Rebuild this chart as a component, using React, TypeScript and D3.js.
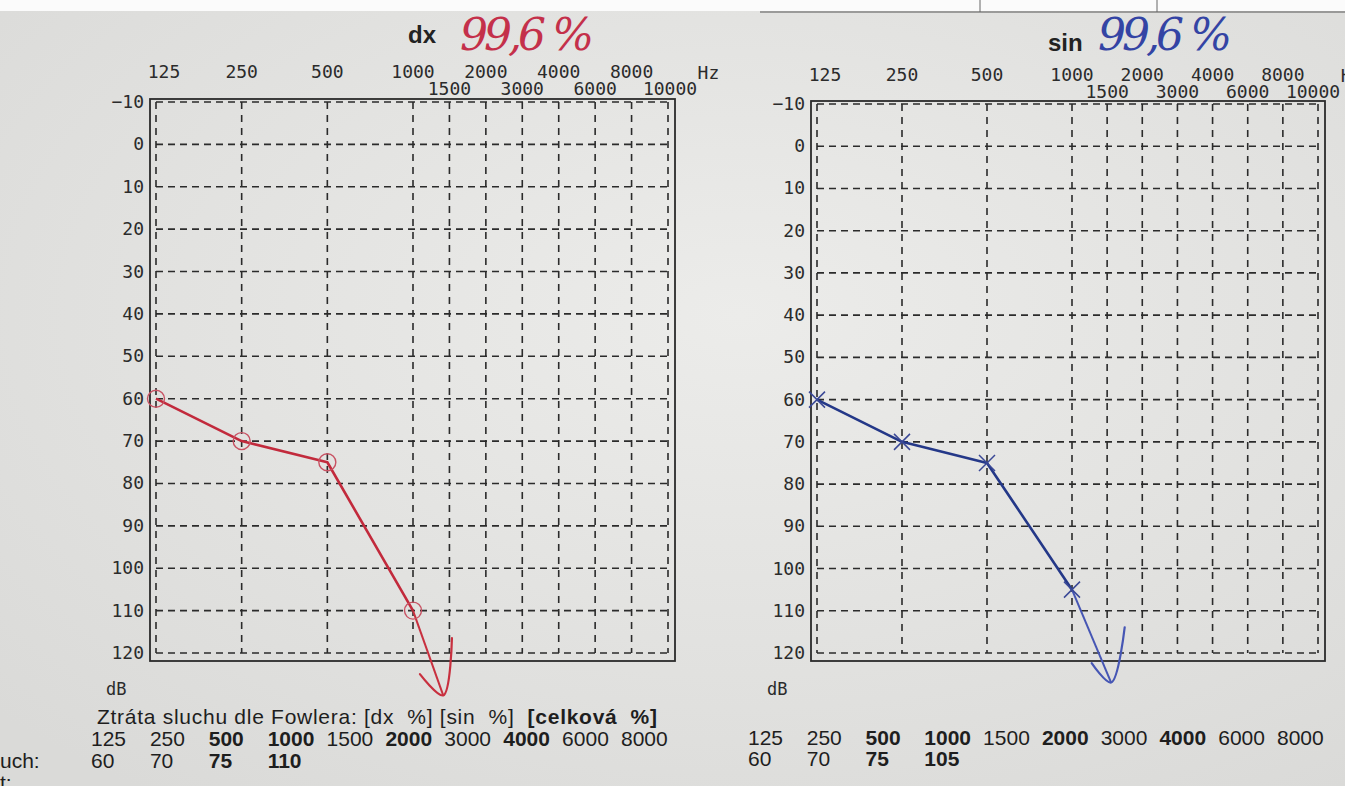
import React, { useEffect, useRef } from 'react';
import * as d3 from 'd3';

// Audiogram frequencies (grid columns)
const FREQS = [125, 250, 500, 1000, 1500, 2000, 3000, 4000, 6000, 8000, 10000];
const UPPER_FREQS = [125, 250, 500, 1000, 2000, 4000, 8000];
const LOWER_FREQS = [1500, 3000, 6000, 10000];
const DB_TICKS = [-10, 0, 10, 20, 30, 40, 50, 60, 70, 80, 90, 100, 110, 120];

// Measured thresholds
const MEASURED_FREQS = [125, 250, 500, 1000];
const DX_DB = [60, 70, 75, 110];
const SIN_DB = [60, 70, 75, 105];

// Hand-drawn "no response" arrows: [Hz, dB]
const DX_ARROW_TIP: [number, number] = [1400, 130];
const DX_ARROW_WING_A: [number, number] = [1080, 125];
const DX_ARROW_WING_B: [number, number] = [1530, 116.5];
const SIN_ARROW_TIP: [number, number] = [1550, 127];
const SIN_ARROW_WING_A: [number, number] = [1255, 122.4];
const SIN_ARROW_WING_B: [number, number] = [1732, 113.9];

// Handwritten totals
const DX_PERCENT = '99,6 %';
const SIN_PERCENT = '99,6 %';

// Fowler table
const TABLE_FREQS = ['125', '250', '500', '1000', '1500', '2000', '3000', '4000', '6000', '8000'];
const BOLD_FREQS = ['500', '1000', '2000', '4000'];
const DX_TABLE = ['60', '70', '75', '110'];
const SIN_TABLE = ['60', '70', '75', '105'];

const W = 1345;
const H = 786;
const PRINT_FONT = '"DejaVu Sans Mono", monospace';
const SANS = '"Liberation Sans", Arial, sans-serif';
const INK = '#2b2b2b';

// fractional column index of a frequency (log interpolation between grid columns)
const freqIndex = (f: number): number => {
  for (let i = 0; i < FREQS.length - 1; i++) {
    if (f <= FREQS[i + 1]) {
      return i + Math.log(f / FREQS[i]) / Math.log(FREQS[i + 1] / FREQS[i]);
    }
  }
  return FREQS.length - 1;
};

interface PanelConfig {
  left: number;
  mid: number;
  right: number;
  top: number;
  bottom: number;
  upperY: number;
  lowerY: number;
  hzShift: number;
  lastShift: number;
  title: string;
  titleX: number;
  titleY: number;
  percent: string;
  percentX: number;
  percentY: number;
  percentLen: number;
  db: number[];
  tip: [number, number];
  wingA: [number, number];
  wingB: [number, number];
  color: string;
  arrowColor: string;
  marker: 'circle' | 'cross';
  handColor: string;
}

const drawPanel = (svg: d3.Selection<SVGSVGElement, unknown, null, undefined>, cfg: PanelConfig) => {
  const x = d3.scaleLinear().domain([0, 3, FREQS.length - 1]).range([cfg.left, cfg.mid, cfg.right]);
  const y = d3.scaleLinear().domain([-10, 120]).range([cfg.top, cfg.bottom]);
  const fx = (f: number) => x(freqIndex(f));

  const g = svg.append('g');

  // frame
  g.append('rect')
    .attr('x', x(0) - 6)
    .attr('y', y(-10) - 3)
    .attr('width', x(FREQS.length - 1) - x(0) + 13)
    .attr('height', y(120) - y(-10) + 11)
    .attr('fill', 'none')
    .attr('stroke', INK)
    .attr('stroke-width', 1.8);

  // dashed grid
  g.selectAll('.hgrid')
    .data(DB_TICKS)
    .enter()
    .append('line')
    .attr('x1', x(0))
    .attr('x2', x(FREQS.length - 1))
    .attr('y1', d => y(d))
    .attr('y2', d => y(d))
    .attr('stroke', INK)
    .attr('stroke-width', 1.6)
    .attr('stroke-dasharray', '7,5');

  g.selectAll('.vgrid')
    .data(FREQS)
    .enter()
    .append('line')
    .attr('x1', d => fx(d))
    .attr('x2', d => fx(d))
    .attr('y1', y(-10))
    .attr('y2', y(120))
    .attr('stroke', INK)
    .attr('stroke-width', 1.6)
    .attr('stroke-dasharray', '7,6');

  // dB labels
  g.selectAll('.ylab')
    .data(DB_TICKS)
    .enter()
    .append('text')
    .attr('x', x(0) - 12)
    .attr('y', d => y(d) + 6)
    .attr('text-anchor', 'end')
    .attr('font-family', PRINT_FONT)
    .attr('font-size', 18)
    .attr('fill', INK)
    .text(d => (d < 0 ? `\u2212${-d}` : `${d}`));

  g.append('text')
    .attr('x', x(0) - 50)
    .attr('y', y(120) + 42)
    .attr('font-family', PRINT_FONT)
    .attr('font-size', 17)
    .attr('fill', INK)
    .text('dB');

  // frequency labels
  g.selectAll('.xup')
    .data(UPPER_FREQS)
    .enter()
    .append('text')
    .attr('x', d => fx(d) + (d === 125 ? 8 : 0))
    .attr('y', cfg.upperY)
    .attr('text-anchor', 'middle')
    .attr('font-family', PRINT_FONT)
    .attr('font-size', 18)
    .attr('fill', INK)
    .text(d => d);

  g.selectAll('.xlow')
    .data(LOWER_FREQS)
    .enter()
    .append('text')
    .attr('x', d => fx(d) + (d === 10000 ? cfg.lastShift : 0))
    .attr('y', cfg.lowerY)
    .attr('text-anchor', 'middle')
    .attr('font-family', PRINT_FONT)
    .attr('font-size', 18)
    .attr('fill', INK)
    .text(d => d);

  g.append('text')
    .attr('x', fx(8000) + cfg.hzShift)
    .attr('y', cfg.upperY + 1)
    .attr('font-family', PRINT_FONT)
    .attr('font-size', 18)
    .attr('fill', INK)
    .text('Hz');

  // title + handwritten percentage
  g.append('text')
    .attr('x', cfg.titleX)
    .attr('y', cfg.titleY)
    .attr('font-family', SANS)
    .attr('font-weight', 'bold')
    .attr('font-size', 24)
    .attr('fill', '#222')
    .text(cfg.title);

  g.append('text')
    .attr('x', cfg.percentX)
    .attr('y', cfg.percentY)
    .attr('font-family', '"DejaVu Serif", serif')
    .attr('font-style', 'italic')
    .attr('font-size', 44)
    .attr('textLength', cfg.percentLen)
    .attr('lengthAdjust', 'spacing')
    .attr('fill', cfg.handColor)
    .text(cfg.percent);

  // threshold line
  const pts: [number, number][] = MEASURED_FREQS.map((f, i) => [fx(f), y(cfg.db[i])]);
  g.append('path')
    .attr('d', d3.line()(pts))
    .attr('fill', 'none')
    .attr('stroke', cfg.color)
    .attr('stroke-width', 2.6)
    .attr('stroke-linejoin', 'round');

  // arrow
  const last = pts[pts.length - 1];
  const tip: [number, number] = [fx(cfg.tip[0]), y(cfg.tip[1])];
  const wa: [number, number] = [fx(cfg.wingA[0]), y(cfg.wingA[1])];
  const wb: [number, number] = [fx(cfg.wingB[0]), y(cfg.wingB[1])];
  g.append('path')
    .attr('d', d3.line()([last, tip]))
    .attr('fill', 'none')
    .attr('stroke', cfg.arrowColor)
    .attr('stroke-width', 2);
  g.append('path')
    .attr('d', d3.line().curve(d3.curveCatmullRom)([wa, tip, wb]))
    .attr('fill', 'none')
    .attr('stroke', cfg.arrowColor)
    .attr('stroke-width', 2.2)
    .attr('stroke-linecap', 'round');

  // markers
  if (cfg.marker === 'circle') {
    g.selectAll('.mk')
      .data(pts)
      .enter()
      .append('circle')
      .attr('cx', d => d[0])
      .attr('cy', d => d[1])
      .attr('r', 8.5)
      .attr('fill', 'none')
      .attr('stroke', '#c85263')
      .attr('stroke-width', 1.4);
  } else {
    const s = 8;
    g.selectAll('.mk')
      .data(pts)
      .enter()
      .append('path')
      .attr('d', d => `M${d[0] - s},${d[1] - s}L${d[0] + s},${d[1] + s}M${d[0] - s},${d[1] + s}L${d[0] + s},${d[1] - s}`)
      .attr('fill', 'none')
      .attr('stroke', '#3a4896')
      .attr('stroke-width', 1.5);
  }
};

const drawTable = (
  svg: d3.Selection<SVGSVGElement, unknown, null, undefined>,
  x0: number,
  x1: number,
  freqY: number,
  values: string[],
  valueY: number
) => {
  const col = d3.scalePoint<string>().domain(TABLE_FREQS).range([x0, x1]);
  svg.append('g')
    .selectAll('text')
    .data(TABLE_FREQS)
    .enter()
    .append('text')
    .attr('x', d => col(d) || 0)
    .attr('y', freqY)
    .attr('font-family', SANS)
    .attr('font-size', 21)
    .attr('font-weight', d => (BOLD_FREQS.includes(d) ? 'bold' : 'normal'))
    .attr('fill', '#1e1e1e')
    .text(d => d);

  svg.append('g')
    .selectAll('text')
    .data(values)
    .enter()
    .append('text')
    .attr('x', (d, i) => col(TABLE_FREQS[i]) || 0)
    .attr('y', valueY)
    .attr('font-family', SANS)
    .attr('font-size', 21)
    .attr('font-weight', (d, i) => (BOLD_FREQS.includes(TABLE_FREQS[i]) ? 'bold' : 'normal'))
    .attr('fill', '#1e1e1e')
    .text(d => d);
};

const App: React.FC = () => {
  const svgRef = useRef<SVGSVGElement>(null);

  useEffect(() => {
    if (!svgRef.current) return;
    const svg = d3.select(svgRef.current);
    svg.selectAll('*').remove();

    // paper
    const defs = svg.append('defs');
    const grad = defs.append('radialGradient')
      .attr('id', 'paper')
      .attr('cx', '55%')
      .attr('cy', '40%')
      .attr('r', '75%');
    grad.append('stop').attr('offset', '0%').attr('stop-color', '#ececea');
    grad.append('stop').attr('offset', '100%').attr('stop-color', '#dadad8');

    svg.append('rect').attr('width', W).attr('height', H).attr('fill', 'url(#paper)');
    svg.append('rect').attr('width', W).attr('height', 11).attr('fill', '#fbfbfb');
    svg.append('line')
      .attr('x1', 760).attr('x2', W).attr('y1', 12).attr('y2', 12)
      .attr('stroke', '#555').attr('stroke-width', 1.2);
    [980, 1157].forEach(vx => {
      svg.append('line')
        .attr('x1', vx).attr('x2', vx).attr('y1', 0).attr('y2', 12)
        .attr('stroke', '#666').attr('stroke-width', 1);
    });

    drawPanel(svg, {
      left: 156, mid: 413, right: 668, top: 102, bottom: 653,
      upperY: 78, lowerY: 95, hzShift: 66, lastShift: 2,
      title: 'dx', titleX: 408, titleY: 43,
      percent: DX_PERCENT, percentX: 460, percentY: 50, percentLen: 134,
      db: DX_DB,
      tip: DX_ARROW_TIP, wingA: DX_ARROW_WING_A, wingB: DX_ARROW_WING_B,
      color: '#c22a3c', arrowColor: '#c8303f', marker: 'circle', handColor: '#c4304a',
    });

    drawPanel(svg, {
      left: 817, mid: 1072, right: 1318, top: 104, bottom: 653,
      upperY: 81, lowerY: 98, hzShift: 58, lastShift: -5,
      title: 'sin', titleX: 1048, titleY: 51,
      percent: SIN_PERCENT, percentX: 1098, percentY: 50, percentLen: 134,
      db: SIN_DB,
      tip: SIN_ARROW_TIP, wingA: SIN_ARROW_WING_A, wingB: SIN_ARROW_WING_B,
      color: '#243888', arrowColor: '#4656b4', marker: 'cross', handColor: '#3444a4',
    });

    // Fowler hearing-loss caption
    const cap = svg.append('text')
      .attr('x', 97)
      .attr('y', 724)
      .attr('font-family', SANS)
      .attr('font-size', 21)
      .attr('textLength', 560)
      .attr('lengthAdjust', 'spacing')
      .attr('fill', '#1e1e1e')
      .style('white-space', 'pre');
    cap.append('tspan').text('Ztráta sluchu dle Fowlera: [dx  %] [sin  %]  ');
    cap.append('tspan').attr('font-weight', 'bold').text('[celková  %]');

    drawTable(svg, 91, 621, 746, DX_TABLE, 768);
    drawTable(svg, 748, 1277, 745, SIN_TABLE, 766);

    svg.append('text')
      .attr('x', 0).attr('y', 768)
      .attr('font-family', SANS).attr('font-size', 21).attr('fill', '#1e1e1e')
      .text('uch:');
    svg.append('text')
      .attr('x', 0).attr('y', 790)
      .attr('font-family', SANS).attr('font-size', 21).attr('fill', '#1e1e1e')
      .text('t:');
  }, []);

  return (
    <svg
      ref={svgRef}
      width={W}
      height={H}
      style={{ position: 'absolute', left: 0, top: 0, display: 'block' }}
    />
  );
};

export default App;
